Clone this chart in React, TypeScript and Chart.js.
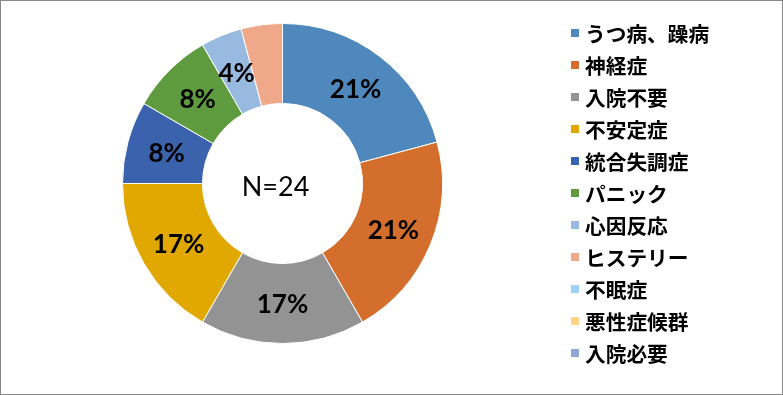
import React, { useEffect, useRef } from "react";
import { Chart, registerables } from "chart.js";

Chart.register(...registerables);

const categories = [
  "うつ病、躁病",
  "神経症",
  "入院不要",
  "不安定症",
  "統合失調症",
  "パニック",
  "心因反応",
  "ヒステリー",
  "不眠症",
  "悪性症候群",
  "入院必要",
];
const counts = [5, 5, 4, 4, 2, 2, 1, 1, 0, 0, 0];
const showLabel = [true, true, true, true, true, true, true, false, false, false, false];
const sampleLabel = "N=24";
const colors = [
  "#4F88BC",
  "#D46E2C",
  "#939393",
  "#E0A800",
  "#3B62AD",
  "#5E9A3E",
  "#98BAE0",
  "#F0A88A",
  "#9DD0FF",
  "#FFD38A",
  "#8FA6D6",
];

const W = 783;
const H = 395;

const extrasPlugin = {
  id: "extras",
  afterDatasetsDraw(chart: any) {
    const ctx = chart.ctx;
    const meta = chart.getDatasetMeta(0);
    const data = chart.data.datasets[0].data as number[];
    const total = data.reduce((a, b) => a + b, 0);
    ctx.save();
    // slice labels
    ctx.font = "bold 26px Lato";
    ctx.fillStyle = "#000";
    ctx.textAlign = "center";
    ctx.textBaseline = "middle";
    meta.data.forEach((arc: any, i: number) => {
      if (!showLabel[i] || !data[i]) return;
      const p = arc.tooltipPosition();
      ctx.fillText(Math.round((data[i] / total) * 100) + "%", p.x, p.y + 1);
    });
    // center text
    const arc0 = meta.data[0] as any;
    ctx.font = "27px Lato";
    ctx.fillText(sampleLabel, arc0.x - 7, arc0.y + 4);
    // legend
    const labels = chart.data.labels as string[];
    const bg = chart.data.datasets[0].backgroundColor as string[];
    ctx.textAlign = "left";
    ctx.font = "bold 20.7px 'Noto Sans CJK JP'";
    labels.forEach((lab, i) => {
      const cy = 32.7 + i * 32.06;
      ctx.fillStyle = bg[i];
      ctx.fillRect(571, Math.round(cy - 4), 8, 8);
      ctx.fillStyle = "#000";
      ctx.fillText(lab, 585, cy + 1);
    });
    // frame
    ctx.strokeStyle = "#888888";
    ctx.lineWidth = 1;
    ctx.strokeRect(0.5, 0.5, W - 1, H - 1);
    ctx.restore();
  },
};

export default function App() {
  const ref = useRef<HTMLCanvasElement>(null);
  useEffect(() => {
    document.body.style.margin = "0";
    const chart = new Chart(ref.current!, {
      type: "doughnut",
      data: {
        labels: categories,
        datasets: [
          {
            data: counts,
            backgroundColor: colors,
            borderColor: "#ffffff",
            borderWidth: 1,
          },
        ],
      },
      options: {
        responsive: false,
        animation: false,
        devicePixelRatio: 1,
        cutout: "50%",
        layout: { padding: { top: 23, bottom: 51, left: 0, right: 218 } },
        plugins: {
          legend: { display: false },
          tooltip: { enabled: false },
        },
      },
      plugins: [extrasPlugin],
    });
    return () => chart.destroy();
  }, []);
  return (
    <div style={{ width: W, height: H, background: "#fff" }}>
      <canvas ref={ref} width={W} height={H} style={{ display: "block" }} />
    </div>
  );
}
